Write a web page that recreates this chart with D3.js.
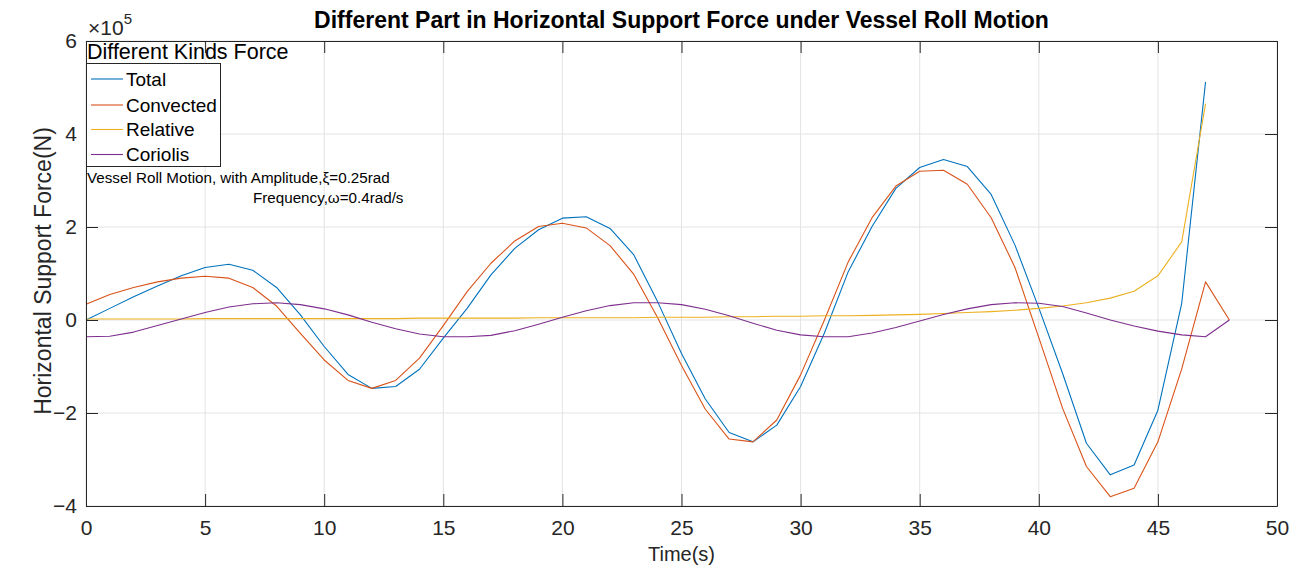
<!DOCTYPE html>
<html>
<head>
<meta charset="utf-8">
<script src="https://cdn.jsdelivr.net/npm/d3@7"></script>
<style>
  html, body { margin: 0; padding: 0; background: #fff; }
  svg { display: block; font-family: "Liberation Sans", Arial, Helvetica, sans-serif; }
</style>
</head>
<body>
<svg id="chart" width="1299" height="569"></svg>
<script>
// Sample times (s)
const time = [0,1,2,3,4,5,6,7,8,9,10,11,12,13,14,15,16,17,18,19,20,21,22,23,24,25,26,27,28,29,30,31,32,33,34,35,36,37,38,39,40,41,42,43,44,45,46,47,48];

// Force components, in units of 1e5 N
const total = [0.00,0.25,0.50,0.73,0.95,1.13,1.20,1.07,0.70,0.11,-0.57,-1.17,-1.47,-1.43,-1.06,-0.39,0.25,0.97,1.54,1.94,2.19,2.22,1.97,1.40,0.39,-0.72,-1.70,-2.42,-2.62,-2.26,-1.43,-0.28,1.04,2.01,2.83,3.28,3.45,3.30,2.70,1.61,0.26,-1.15,-2.65,-3.33,-3.12,-1.94,0.36,5.12];
const convected = [0.34,0.55,0.70,0.82,0.90,0.94,0.90,0.70,0.30,-0.29,-0.86,-1.30,-1.47,-1.30,-0.82,-0.12,0.61,1.22,1.70,2.01,2.08,1.98,1.60,0.98,0.05,-0.98,-1.92,-2.56,-2.62,-2.15,-1.18,0.00,1.25,2.20,2.88,3.20,3.22,2.92,2.20,1.13,-0.38,-1.90,-3.15,-3.80,-3.62,-2.62,-1.05,0.82,0.00];
const relative = [0.02,0.02,0.02,0.02,0.02,0.03,0.03,0.03,0.03,0.03,0.03,0.03,0.03,0.03,0.04,0.04,0.04,0.04,0.04,0.05,0.05,0.05,0.05,0.05,0.06,0.06,0.06,0.07,0.07,0.08,0.08,0.09,0.09,0.10,0.11,0.12,0.14,0.16,0.18,0.21,0.25,0.30,0.37,0.47,0.62,0.95,1.68,4.65];
const coriolis = [-0.36,-0.35,-0.26,-0.12,0.02,0.16,0.28,0.35,0.37,0.33,0.24,0.11,-0.05,-0.19,-0.30,-0.36,-0.36,-0.33,-0.23,-0.09,0.06,0.20,0.31,0.37,0.37,0.33,0.23,0.09,-0.07,-0.22,-0.32,-0.36,-0.36,-0.28,-0.16,-0.02,0.12,0.24,0.33,0.37,0.36,0.29,0.15,0.00,-0.13,-0.24,-0.32,-0.36,0.00];

const seriesNames = ["Total", "Convected", "Relative", "Coriolis"];
const seriesColors = ["#0072BD", "#D95319", "#EDB120", "#7E2F8E"];
const xTicks = [0,5,10,15,20,25,30,35,40,45,50];
const yTicks = [-4,-2,0,2,4,6];

const svg = d3.select("#chart");
const m = { left: 86, top: 41, right: 1277, bottom: 506 };
const axisColor = "#262626";
const tickFont = 21;

const x = d3.scaleLinear().domain([0, 50]).range([m.left, m.right]);
const y = d3.scaleLinear().domain([-4, 6]).range([m.bottom, m.top]);

// grid
const grid = svg.append("g");
grid.selectAll("line.gx").data(xTicks).join("line")
  .attr("x1", d => x(d)).attr("x2", d => x(d))
  .attr("y1", m.top).attr("y2", m.bottom)
  .attr("stroke", "#e3e3e3").attr("stroke-width", 1);
grid.selectAll("line.gy").data(yTicks).join("line")
  .attr("y1", d => y(d)).attr("y2", d => y(d))
  .attr("x1", m.left).attr("x2", m.right)
  .attr("stroke", "#e3e3e3").attr("stroke-width", 1);

// data lines
const line = d3.line().x(d => x(d[0])).y(d => y(d[1]));
const seriesData = [total, convected, relative, coriolis];
seriesData.forEach((vals, i) => {
  const pts = vals.map((v, k) => [time[k], v]);
  svg.append("path").datum(pts)
    .attr("d", line)
    .attr("fill", "none")
    .attr("stroke", seriesColors[i])
    .attr("stroke-width", 1.1)
    .attr("stroke-linejoin", "round");
});

// axes with inward ticks on all four sides
const tick = 12;
function styleAxis(g) {
  g.selectAll(".domain").attr("stroke", axisColor).attr("stroke-width", 1);
  g.selectAll(".tick line").attr("stroke", axisColor).attr("stroke-width", 1);
  g.selectAll(".tick text").attr("fill", axisColor)
    .attr("font-size", tickFont).attr("font-family", "Liberation Sans, Arial, sans-serif");
}
svg.append("g").attr("transform", `translate(0,${m.bottom})`)
  .call(d3.axisBottom(x).tickValues(xTicks).tickSize(-tick).tickPadding(14).tickSizeOuter(0))
  .call(styleAxis);
svg.append("g").attr("transform", `translate(0,${m.top})`)
  .call(d3.axisTop(x).tickValues(xTicks).tickSize(-tick).tickFormat("").tickSizeOuter(0))
  .call(styleAxis);
svg.append("g").attr("transform", `translate(${m.left},0)`)
  .call(d3.axisLeft(y).tickValues(yTicks).tickSize(-tick).tickPadding(9).tickSizeOuter(0))
  .call(styleAxis);
svg.append("g").attr("transform", `translate(${m.right},0)`)
  .call(d3.axisRight(y).tickValues(yTicks).tickSize(-tick).tickFormat("").tickSizeOuter(0))
  .call(styleAxis);

// exponent label
const expo = svg.append("text").attr("x", 88).attr("y", 35)
  .attr("font-size", 21).attr("fill", axisColor);
expo.append("tspan").text("×10");
expo.append("tspan").attr("dy", -11).attr("font-size", 15).text("5");

// title
svg.append("text").attr("x", (m.left + m.right) / 2).attr("y", 28)
  .attr("text-anchor", "middle").attr("font-weight", "bold")
  .attr("font-size", 23).attr("fill", "#000")
  .text("Different Part in Horizontal Support Force under Vessel Roll Motion");

// axis labels
svg.append("text").attr("x", (m.left + m.right) / 2).attr("y", 561)
  .attr("text-anchor", "middle").attr("font-size", 20).attr("fill", axisColor)
  .text("Time(s)");
svg.append("text").attr("transform", `translate(51,${271}) rotate(-90)`)
  .attr("text-anchor", "middle").attr("font-size", 23).attr("fill", axisColor)
  .text("Horizontal Support Force(N)");

// legend
const leg = svg.append("g");
leg.append("text").attr("x", 87).attr("y", 59)
  .attr("font-size", 21.5).attr("fill", "#000").text("Different Kinds Force");
leg.append("rect").attr("x", 86.5).attr("y", 63.5).attr("width", 134).attr("height", 103)
  .attr("fill", "#fff").attr("stroke", axisColor).attr("stroke-width", 1);
const rowY = [79, 105, 129.5, 154.5];
seriesNames.forEach((name, i) => {
  leg.append("line").attr("x1", 91).attr("x2", 123)
    .attr("y1", rowY[i]).attr("y2", rowY[i])
    .attr("stroke", seriesColors[i]).attr("stroke-width", 1.1);
  leg.append("text").attr("x", 126).attr("y", rowY[i]).attr("dy", "0.35em")
    .attr("font-size", 19).attr("fill", "#000").text(name);
});

// annotation
svg.append("text").attr("x", 87).attr("y", 183)
  .attr("font-size", 15.2).attr("fill", "#000")
  .text("Vessel Roll Motion, with Amplitude,ξ=0.25rad");
svg.append("text").attr("x", 253).attr("y", 203)
  .attr("font-size", 15.2).attr("fill", "#000")
  .text("Frequency,ω=0.4rad/s");
</script>
</body>
</html>
